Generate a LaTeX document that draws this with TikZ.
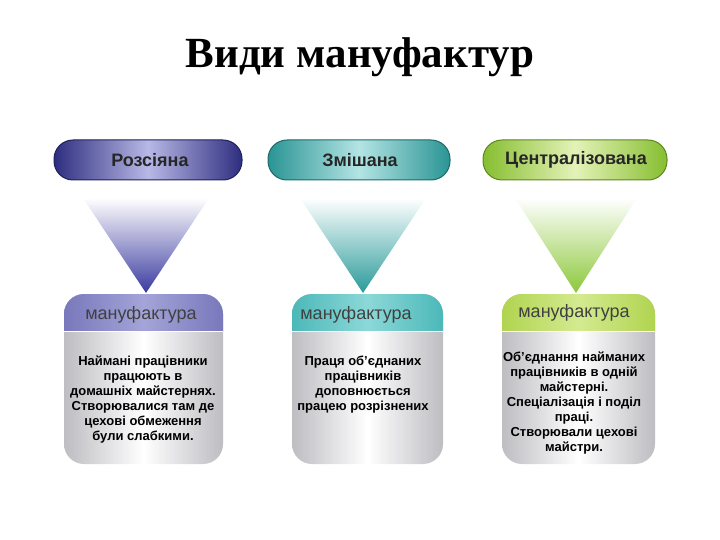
\documentclass[tikz,border=0pt]{standalone}
\usepackage{fontspec}
\setmainfont{Liberation Sans}
\newfontfamily\titlefont{Liberation Serif}
\definecolor{navyD}{HTML}{2E2E80}
\definecolor{navyL}{HTML}{B8B8E6}
\definecolor{navyH}{HTML}{7878BC}
\definecolor{navyHL}{HTML}{A4A4D8}
\definecolor{navyT}{HTML}{3A3AA0}
\definecolor{tealD}{HTML}{2A9494}
\definecolor{tealL}{HTML}{B4E4E4}
\definecolor{tealH}{HTML}{4CB8B8}
\definecolor{tealHL}{HTML}{8CD8D8}
\definecolor{tealT}{HTML}{2A9A9A}
\definecolor{grnD}{HTML}{86BE30}
\definecolor{grnL}{HTML}{E4F2B8}
\definecolor{grnH}{HTML}{B0D450}
\definecolor{grnHL}{HTML}{D4EA90}
\definecolor{grnT}{HTML}{8CC83A}
\definecolor{bodyG}{HTML}{BDBDC2}
\tikzset{
  pilltext/.style={font=\bfseries\fontsize{18}{20}\selectfont, text=black!85},
  headtext/.style={font=\fontsize{18}{20}\selectfont, text=black!75},
  bodytext/.style={font=\bfseries\fontsize{13}{15}\selectfont, align=center, text=black},
}
\newcommand{\pillshape}[5]{% cx, cy, w, dark, light
  \shade[rounded corners=19pt, left color=#4, right color=#4, middle color=#5, draw=#4!70!black, line width=1pt]
    (#1-#3/2,#2-20) rectangle (#1+#3/2,#2+20);
}
\newcommand{\tri}[4]{% cx, halfwidth, topy, color ; apex y 293
  \shade[top color=white, bottom color=#4] (#1-#2,#3) -- (#1+#2,#3) -- (#1,293) -- cycle;
}
\newcommand{\infobox}[4]{% left, right, headcolor, headlight
  \begin{scope}
    \clip[rounded corners=20pt] (#1,294) rectangle (#2,464);
    \shade[left color=bodyG, right color=bodyG, middle color=white] (#1,294) rectangle (#2,464);
    \shade[left color=#3, right color=#3, middle color=#4] (#1,294) rectangle (#2,331);
    \draw[white, line width=1.2pt] (#1,331.5) -- (#2,331.5);
  \end{scope}
}
\begin{document}
\begin{tikzpicture}[x=1pt,y=-1pt]
\useasboundingbox (0,0) rectangle (720,540);
\node[font=\titlefont\bfseries\fontsize{43}{45}\selectfont] (title) at (360,57) {Види мануфактур};

% triangles
\tri{146}{63}{198}{navyT}
\tri{363}{63}{198}{tealT}
\tri{576}{61}{198}{grnT}

% pills
\pillshape{148}{160}{188}{navyD}{navyL}
\pillshape{359}{160}{182}{tealD}{tealL}
\pillshape{575}{160}{184}{grnD}{grnL}
\node[pilltext] (p1) at (150,160) {Розсіяна};
\node[pilltext] (p2) at (360,160) {Змішана};
\node[pilltext] (p3) at (576,160) {Централізована};

% boxes
\infobox{64}{223}{navyH}{navyHL}
\infobox{292}{443}{tealH}{tealHL}
\infobox{502}{655}{grnH}{grnHL}

\node[headtext] (h1) at (141,315) {мануфактура};
\node[headtext] (h2) at (356,315) {мануфактура};
\node[headtext] (h3) at (574,313) {мануфактура};

\node[bodytext, anchor=north] (b1) at (143,352) {Наймані працівники\\працюють в\\домашніх майстернях.\\Створювалися там де\\цехові обмеження\\були слабкими.};
\node[bodytext, anchor=north] (b2) at (363,352) {Праця об'єднаних\\працівників\\доповнюється\\працею розрізнених};
\node[bodytext, anchor=north] (b3) at (574,348) {Об'єднання найманих\\працівників в одній\\майстерні.\\Спеціалізація і поділ\\праці.\\Створювали цехові\\майстри.};
\end{tikzpicture}
\end{document}
